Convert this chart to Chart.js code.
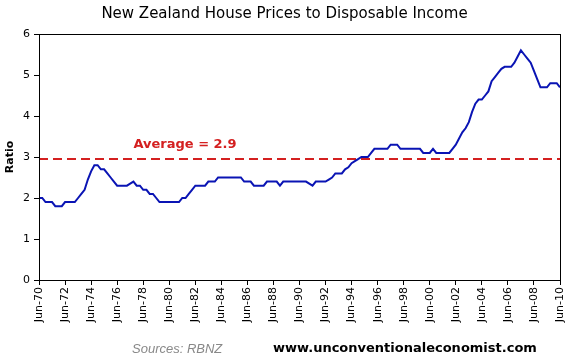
<!DOCTYPE html>
<html>
<head>
<meta charset="utf-8">
<script src="https://cdn.jsdelivr.net/npm/chart.js"></script>
<style>
  body { margin: 0; background: #fff; }
  #wrap { position: relative; width: 569px; height: 364px; }
  #title { position: absolute; left: 0; width: 569px; top: 4px; text-align: center;
           font: 15px "DejaVu Sans", sans-serif; color: #000; }
  #src { position: absolute; left: 132px; top: 341px; font: italic 13px "Liberation Sans", sans-serif; color: #888; }
  #url { position: absolute; left: 273px; top: 340px; font: bold 13px "DejaVu Sans", sans-serif; color: #000; }
</style>
</head>
<body>
<div id="wrap">
  <canvas id="houseChart" width="569" height="364"></canvas>
  <div id="title">New Zealand House Prices to Disposable Income</div>
  <div id="src">Sources: RBNZ</div>
  <div id="url">www.unconventionaleconomist.com</div>
</div>
<script>
// Quarterly ratio, Jun-70 .. Jun-10
const ratio = [
  2.0, 2.0, 1.9, 1.9, 1.9, 1.8, 1.8, 1.8,   // 70-72
  1.9, 1.9, 1.9, 1.9, 2.0, 2.1, 2.2, 2.45,  // 72-74
  2.65, 2.8, 2.8, 2.7, 2.7, 2.6, 2.5, 2.4,  // 74-76
  2.3, 2.3, 2.3, 2.3, 2.35, 2.4, 2.3, 2.3,  // 76-78
  2.2, 2.2, 2.1, 2.1, 2.0, 1.9, 1.9, 1.9,   // 78-80
  1.9, 1.9, 1.9, 1.9, 2.0, 2.0, 2.1, 2.2,   // 80-82
  2.3, 2.3, 2.3, 2.3, 2.4, 2.4, 2.4, 2.5,   // 82-84
  2.5, 2.5, 2.5, 2.5, 2.5, 2.5, 2.5, 2.4,   // 84-86
  2.4, 2.4, 2.3, 2.3, 2.3, 2.3, 2.4, 2.4,   // 86-88
  2.4, 2.4, 2.3, 2.4, 2.4, 2.4, 2.4, 2.4,   // 88-90
  2.4, 2.4, 2.4, 2.35, 2.3, 2.4, 2.4, 2.4,  // 90-92
  2.4, 2.45, 2.5, 2.6, 2.6, 2.6, 2.7, 2.75, // 92-94
  2.85, 2.9, 2.95, 3.0, 3.0, 3.0, 3.1, 3.2, // 94-96
  3.2, 3.2, 3.2, 3.2, 3.3, 3.3, 3.3, 3.2,   // 96-98
  3.2, 3.2, 3.2, 3.2, 3.2, 3.2, 3.1, 3.1,   // 98-00
  3.1, 3.2, 3.1, 3.1, 3.1, 3.1, 3.1, 3.2,   // 00-02
  3.3, 3.45, 3.6, 3.7, 3.85, 4.1, 4.3, 4.4, // 02-04
  4.4, 4.5, 4.6, 4.85, 4.95, 5.05, 5.15, 5.2, // 04-06
  5.2, 5.2, 5.3, 5.45, 5.6, 5.5, 5.4, 5.3,  // 06-08
  5.1, 4.9, 4.7, 4.7, 4.7, 4.8, 4.8, 4.8,   // 08-10
  4.7
];
const tickLabels = ['Jun-70','Jun-72','Jun-74','Jun-76','Jun-78','Jun-80','Jun-82','Jun-84',
  'Jun-86','Jun-88','Jun-90','Jun-92','Jun-94','Jun-96','Jun-98','Jun-00','Jun-02',
  'Jun-04','Jun-06','Jun-08','Jun-10'];
const average = 2.95;  // drawn position; label reads 2.9
const averageLabel = 'Average = 2.9';

const lastQ = ratio.length - 1;

// box round the plot + the average label
const frame = {
  id: 'frame',
  afterDraw(chart) {
    const { ctx, chartArea: a, scales } = chart;
    ctx.save();
    ctx.strokeStyle = '#000';
    ctx.lineWidth = 1;
    ctx.strokeRect(a.left + 0.5, a.top + 0.5, a.right - a.left, a.bottom - a.top);
    ctx.fillStyle = '#d42020';
    ctx.font = 'bold 13px "DejaVu Sans", sans-serif';
    ctx.textBaseline = 'bottom';
    ctx.fillText(averageLabel, scales.x.getPixelForValue(29), scales.y.getPixelForValue(average) - 8);
    ctx.restore();
  }
};

new Chart(document.getElementById('houseChart'), {
  type: 'line',
  data: {
    datasets: [{
      data: ratio.map((v, i) => ({ x: i, y: v })),
      borderColor: '#0a14b4',
      borderWidth: 2,
      pointRadius: 0,
      tension: 0
    }, {
      data: [{ x: 0, y: average }, { x: lastQ, y: average }],
      borderColor: '#d42020',
      borderWidth: 2,
      borderDash: [9, 5],
      pointRadius: 0
    }]
  },
  options: {
    responsive: false,
    animation: false,
    layout: { padding: { top: 34, right: 9, left: 0, bottom: 0 } },
    plugins: { legend: { display: false }, tooltip: { enabled: false } },
    scales: {
      x: {
        type: 'linear',
        min: 0,
        max: lastQ,
        afterFit(s) { s.height = 84; s.paddingRight = 0; s.paddingLeft = 0; },
        grid: { drawOnChartArea: false, color: '#000', tickLength: 5 },
        border: { color: '#000' },
        ticks: {
          stepSize: 8,
          autoSkip: false,
          maxRotation: 90,
          minRotation: 90,
          color: '#000',
          padding: 2,
          font: { family: 'DejaVu Sans', size: 11 },
          callback: v => tickLabels[v / 8]
        }
      },
      y: {
        min: 0,
        max: 6,
        afterFit(s) { s.width = 39; },
        grid: { drawOnChartArea: false, color: '#000', tickLength: 5 },
        border: { color: '#000' },
        title: { display: true, text: 'Ratio', color: '#000',
                 font: { family: 'DejaVu Sans', size: 11, weight: 'bold' },
                 padding: { top: 4, bottom: 0 } },
        ticks: {
          stepSize: 1,
          color: '#000',
          padding: 4,
          font: { family: 'DejaVu Sans', size: 11 }
        }
      }
    }
  },
  plugins: [frame]
});
</script>
</body>
</html>
